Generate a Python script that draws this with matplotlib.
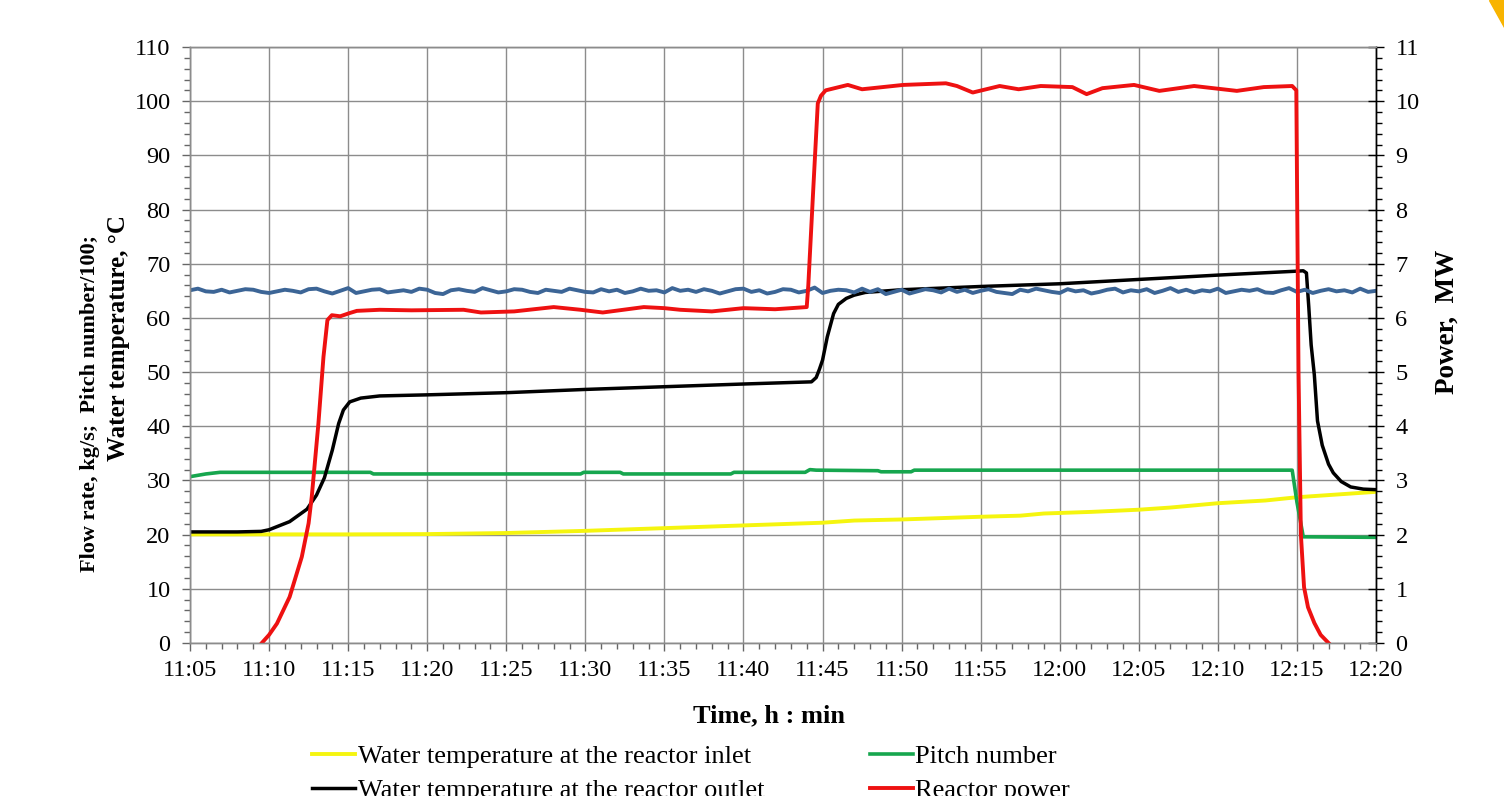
import numpy as np
import matplotlib
matplotlib.use("Agg")
import matplotlib.pyplot as plt
from matplotlib.ticker import MultipleLocator, FixedLocator, FixedFormatter
from matplotlib.patches import Polygon

plt.rcParams['font.family'] = ['Liberation Serif', 'DejaVu Serif']

# time in minutes after 11:05
x_ticks = [0, 5, 10, 15, 20, 25, 30, 35, 40, 45, 50, 55, 60, 65, 70, 75]
x_labels = ["11:05", "11:10", "11:15", "11:20", "11:25", "11:30", "11:35", "11:40",
            "11:45", "11:50", "11:55", "12:00", "12:05", "12:10", "12:15", "12:20"]

# water temperature at the reactor inlet, C
inlet_t = [0, 10, 15, 20, 25, 30, 35, 40, 42, 45, 48, 50, 52.5, 54, 55, 57, 60, 62, 65, 68, 70, 72, 75]
inlet_v = [20.05, 20.05, 20.1, 20.3, 20.7, 21.2, 21.7, 22.2, 22.6, 22.8, 23.1, 23.3, 23.5, 23.9,
           24.0, 24.2, 24.6, 25.0, 25.8, 26.3, 26.9, 27.3, 27.9]

# water temperature at the reactor outlet, C
outlet_t = [0, 3, 4.5, 5, 6.3, 7.4, 8.0, 8.5, 9.0, 9.4, 9.7, 10.1, 10.8, 12, 15, 20, 25, 30, 35,
            39.3, 39.6, 39.8, 40.0, 40.3, 40.7, 41.0, 41.5, 42.0, 42.7, 45, 50, 55, 60, 65, 69.8,
            70.4, 70.6, 70.75, 70.9, 71.1, 71.3, 71.6, 72.0, 72.3, 72.8, 73.4, 74.2, 75]
outlet_v = [20.5, 20.5, 20.6, 20.9, 22.4, 24.7, 27.3, 30.5, 35.6, 40.5, 43.0, 44.5, 45.2, 45.6,
            45.8, 46.2, 46.8, 47.3, 47.8, 48.2, 49.0, 50.5, 52.2, 56.5, 60.8, 62.5, 63.6, 64.2,
            64.7, 65.2, 65.8, 66.3, 67.1, 67.9, 68.6, 68.7, 68.3, 62.0, 55.0, 49.5, 41.0, 36.5,
            33.0, 31.4, 29.8, 28.8, 28.4, 28.3]

# pitch number / 100
pitch_t = [0, 1.0, 1.9, 11.4, 11.6, 24.7, 24.9, 27.2, 27.4, 34.2, 34.4, 38.9, 39.2, 39.6, 43.5,
           43.7, 45.6, 45.8, 69.7, 70.0, 70.4, 75]
pitch_v = [30.7, 31.2, 31.5, 31.5, 31.2, 31.2, 31.5, 31.5, 31.2, 31.2, 31.5, 31.5, 32.0, 31.9,
           31.8, 31.6, 31.6, 31.9, 31.9, 26.0, 19.6, 19.5]

# reactor power, MW
power_t = [4.54, 5.0, 5.5, 6.3, 7.07, 7.5, 7.7, 8.12, 8.44, 8.69, 8.97, 9.5, 10.1, 10.55, 12, 14,
           17.3, 18.4, 20.5, 23, 24.7, 26.1, 28.7, 30, 31, 33, 35, 37, 39.0, 39.1, 39.4, 39.7,
           39.9, 40.2, 41.6, 42.5, 45.1, 47.8, 48.5, 49.5, 51.2, 52.4, 53.8, 55.8, 56.7, 57.7,
           59.7, 61.3, 63.5, 66.2, 67.9, 69.7, 69.96, 70.1, 70.25, 70.45, 70.7, 71.1, 71.5, 72.0]
power_v = [0.0, 0.15, 0.36, 0.85, 1.59, 2.21, 2.70, 4.05, 5.28, 5.96, 6.05, 6.03, 6.09, 6.13,
           6.15, 6.14, 6.15, 6.10, 6.12, 6.20, 6.15, 6.10, 6.20, 6.18, 6.15, 6.12, 6.18, 6.16,
           6.2, 6.6, 8.3, 9.96, 10.1, 10.2, 10.3, 10.22, 10.3, 10.33, 10.28, 10.16, 10.28, 10.22,
           10.28, 10.26, 10.13, 10.24, 10.3, 10.19, 10.28, 10.19, 10.26, 10.28, 10.2, 5.0, 2.0,
           1.03, 0.66, 0.37, 0.15, 0.0]

# flow rate, kg/s, sampled every 0.5 min
flow_v = [65.1, 65.4, 64.9, 64.8, 65.2, 64.7, 65.0, 65.3, 65.2, 64.8,
          64.6, 64.9, 65.2, 65.0, 64.7, 65.3, 65.4, 64.9, 64.5, 65.0,
          65.5, 64.6, 64.9, 65.2, 65.3, 64.7, 64.9, 65.1, 64.8, 65.4,
          65.2, 64.6, 64.4, 65.1, 65.3, 65.0, 64.8, 65.5, 65.1, 64.7,
          64.9, 65.3, 65.2, 64.8, 64.6, 65.2, 65.0, 64.8, 65.4, 65.1,
          64.8, 64.7, 65.3, 64.9, 65.2, 64.6, 64.9, 65.4, 65.0, 65.1,
          64.7, 65.5, 65.0, 65.2, 64.8, 65.3, 65.0, 64.5, 64.9, 65.3,
          65.4, 64.8, 65.1, 64.5, 64.8, 65.3, 65.2, 64.7, 65.0, 65.6,
          64.6, 65.0, 65.2, 65.1, 64.7, 65.4, 64.8, 65.3, 64.4, 64.8,
          65.2, 64.5, 64.9, 65.3, 65.1, 64.7, 65.4, 64.8, 65.2, 64.6,
          65.0, 65.3, 64.8, 64.6, 64.4, 65.2, 64.9, 65.4, 65.1, 64.8,
          64.6, 65.3, 64.9, 65.1, 64.5, 64.8, 65.2, 65.4, 64.7, 65.1,
          64.9, 65.3, 64.6, 65.0, 65.5, 64.8, 65.2, 64.7, 65.1, 64.9,
          65.4, 64.6, 64.9, 65.2, 65.0, 65.3, 64.7, 64.6, 65.1, 65.5,
          64.8, 65.2, 64.6, 65.0, 65.3, 64.9, 65.1, 64.7, 65.4, 64.8,
          65.0]
flow_t = np.arange(len(flow_v)) * 0.5

W, H = 1504, 796
fig = plt.figure(figsize=(W / 100, H / 100), dpi=100)
ax = fig.add_axes([190 / W, 1 - 643 / H, (1376 - 190) / W, (643 - 47) / H])
ax2 = ax.twinx()

grid_c = '#8c8c8c'
ax.grid(True, which='major', color=grid_c, linewidth=1.0)
ax.set_axisbelow(True)

l_in, = ax.plot(inlet_t, inlet_v, color='#f5f50f', lw=2.8, label='Water temperature at the reactor inlet')
l_pitch, = ax.plot(pitch_t, pitch_v, color='#16a64e', lw=2.6, label='Pitch number')
l_out, = ax.plot(outlet_t, outlet_v, color='black', lw=2.5, label='Water temperature at the reactor outlet')
l_flow, = ax.plot(flow_t, flow_v, color='#3c6596', lw=2.8, label='Flow rate')
l_pow, = ax2.plot(power_t, power_v, color='#ee1111', lw=2.8, label='Reactor power')

ax.set_xlim(0, 75)
ax.set_ylim(0, 110)
ax2.set_ylim(0, 11)

ax.xaxis.set_major_locator(FixedLocator(x_ticks))
ax.xaxis.set_major_formatter(FixedFormatter(x_labels))
ax.xaxis.set_minor_locator(MultipleLocator(1))
ax.yaxis.set_major_locator(MultipleLocator(10))
ax.yaxis.set_minor_locator(MultipleLocator(2))
ax2.yaxis.set_major_locator(MultipleLocator(1))
ax2.yaxis.set_minor_locator(MultipleLocator(0.2))

fs = 17.5
ax.tick_params(axis='x', which='major', direction='out', length=6, width=1, color='#666666',
               labelsize=fs, pad=6)
ax.tick_params(axis='x', which='minor', direction='out', length=4, width=1, color='#666666')
ax.tick_params(axis='y', which='major', direction='out', length=6, width=1, color='#666666',
               labelsize=fs, pad=8)
ax.tick_params(axis='y', which='minor', direction='out', length=4, width=1, color='#666666')
ax2.tick_params(axis='y', which='major', direction='inout', length=12, width=1, color='black',
                labelsize=fs, pad=8)
ax2.tick_params(axis='y', which='minor', direction='out', length=4.5, width=1, color='black')

for a in (ax, ax2):
    for s in ('top', 'left', 'bottom'):
        a.spines[s].set_color(grid_c)
        a.spines[s].set_linewidth(1.0)
    a.spines['right'].set_color('black')
    a.spines['right'].set_linewidth(1.0)

fig.text(769 / W, 1 - 716 / H, 'Time, h : min', ha='center', va='center',
         fontsize=19, fontweight='bold')
fig.text(90 / W, 1 - 404 / H, 'Flow rate, kg/s;  Pitch number/100;', rotation=90,
         ha='center', va='center', fontsize=16, fontweight='bold')
fig.text(118 / W, 1 - 338 / H, 'Water temperature, \u00b0C', rotation=90,
         ha='center', va='center', fontsize=18, fontweight='bold')
fig.text(1447 / W, 1 - 322 / H, 'Power,  MW', rotation=90, ha='center', va='center',
         fontsize=19.5, fontweight='bold')

fig.legend(handles=[l_in, l_out, l_pitch, l_pow], ncol=2, loc='upper left',
           bbox_to_anchor=(312 / W, 1 - 745 / H), frameon=False, fontsize=19,
           handlelength=1.63, handletextpad=0.1, columnspacing=4.0, labelspacing=0.38,
           borderpad=0, borderaxespad=0)

# orange corner mark
fig.patches.append(Polygon([[1489 / W, 1], [1 - 0.5 / W, 1], [1 - 0.5 / W, 1 - 27 / H]],
                           closed=True, transform=fig.transFigure, color='#f8b400', zorder=5))

fig.savefig('out.png', dpi=100)
